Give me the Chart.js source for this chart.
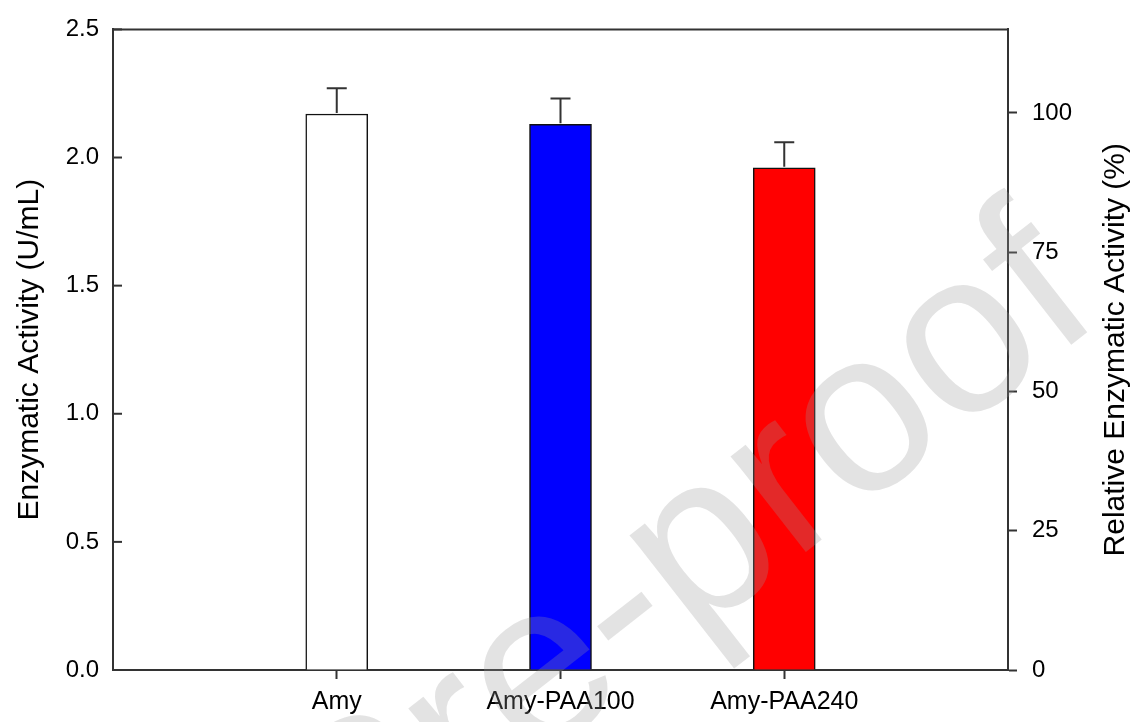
<!DOCTYPE html>
<html><head><meta charset="utf-8">
<script src="https://cdn.jsdelivr.net/npm/chart.js@4.4.1/dist/chart.umd.min.js"></script>
<style>html,body{margin:0;padding:0;background:#fff;overflow:hidden}canvas{display:block}</style>
</head><body>
<canvas id="c" width="1133" height="722"></canvas>
<script>
const categories = ['Amy', 'Amy-PAA100', 'Amy-PAA240'];
const activity = [2.17, 2.13, 1.96];
const errorUp = [0.10, 0.10, 0.10];
const barColors = ['#ffffff', '#0000ff', '#ff0000'];
const leftTicks = [0, 0.5, 1.0, 1.5, 2.0, 2.5];
const rightTicks = [0, 25, 50, 75, 100];
const leftMax = 2.5;
const rightMax = 115;
const leftTitle = 'Enzymatic Activity (U/mL)';
const rightTitle = 'Relative Enzymatic Activity (%)';
const watermark = 'Journal Pre-proof';

const FONT = "'Liberation Sans', Arial, sans-serif";
Chart.defaults.font.family = FONT;
Chart.defaults.color = '#000';

const labels = ['', ...categories, ''];
const values = [null, ...activity, null];
const fills = ['rgba(0,0,0,0)', ...barColors, 'rgba(0,0,0,0)'];
const AXIS = '#333';

const decor = {
  id: 'decor',
  afterDatasetsDraw(chart) {
    const {ctx, chartArea: a, scales} = chart;
    const ys = scales.y;
    const meta = chart.getDatasetMeta(0);
    ctx.save();
    ctx.strokeStyle = AXIS;
    ctx.lineWidth = 2;
    // error bars (upper only)
    categories.forEach((c, i) => {
      const el = meta.data[i + 1];
      const x = el.x;
      const yTop = el.y;
      const yErr = ys.getPixelForValue(activity[i] + errorUp[i]);
      ctx.beginPath();
      ctx.moveTo(x, yTop - 1);
      ctx.lineTo(x, yErr);
      ctx.moveTo(x - 10, yErr);
      ctx.lineTo(x + 10, yErr);
      ctx.stroke();
    });
    // inward ticks on left axis
    leftTicks.forEach(v => {
      const y = ys.getPixelForValue(v);
      ctx.beginPath();
      ctx.moveTo(a.left, y);
      ctx.lineTo(a.left + 9, y);
      ctx.stroke();
    });
    // top frame line
    ctx.beginPath();
    ctx.moveTo(a.left - 1, a.top);
    ctx.lineTo(a.right + 1, a.top);
    ctx.stroke();
    ctx.restore();
    // watermark
    ctx.save();
    ctx.font = '230px ' + FONT;
    ctx.fillStyle = 'rgba(150,150,150,0.27)';
    ctx.textBaseline = 'alphabetic';
    ctx.textAlign = 'left';
    ctx.translate(545, 680);
    ctx.rotate(-38 * Math.PI / 180);
    const pre = ctx.measureText('Journal Pr').width;
    const ew = ctx.measureText('e').width;
    ctx.fillText(watermark, -pre - ew / 2, 230 * 0.26);
    ctx.restore();
  },
  afterDraw(chart) {
    const {ctx, chartArea: a} = chart;
    // right axis title, reading bottom to top
    ctx.save();
    ctx.fillStyle = '#000';
    ctx.font = '30px ' + FONT;
    ctx.textAlign = 'center';
    ctx.textBaseline = 'middle';
    ctx.translate(1116, (a.top + a.bottom) / 2);
    ctx.rotate(-Math.PI / 2);
    ctx.fillText(rightTitle, 0, 0);
    ctx.restore();
  }
};

new Chart(document.getElementById('c'), {
  type: 'bar',
  data: {
    labels: labels,
    datasets: [{
      data: values,
      backgroundColor: fills,
      borderColor: '#111',
      borderWidth: 1.5,
      barThickness: 62,
      yAxisID: 'y'
    }]
  },
  options: {
    responsive: false,
    animation: false,
    devicePixelRatio: 1,
    layout: {padding: {top: 24, left: 0, right: 0, bottom: 0}},
    plugins: {legend: {display: false}, tooltip: {enabled: false}},
    scales: {
      x: {
        type: 'category',
        offset: false,
        grid: {
          offset: false,
          drawOnChartArea: false,
          drawTicks: true,
          tickLength: 9,
          tickWidth: 2,
          color: ctx => (ctx.index === 0 || ctx.index === labels.length - 1) ? 'rgba(0,0,0,0)' : AXIS
        },
        border: {display: true, color: AXIS, width: 2},
        ticks: {font: {size: 25}, padding: 8, autoSkip: false, maxRotation: 0, minRotation: 0, color: '#000'},
        afterFit: s => { s.height = 52; }
      },
      y: {
        position: 'left',
        min: 0,
        max: leftMax,
        afterBuildTicks: s => { s.ticks = leftTicks.map(v => ({value: v})); },
        grid: {drawOnChartArea: false, drawTicks: false},
        border: {display: true, color: AXIS, width: 2},
        ticks: {font: {size: 24}, padding: 14, color: '#000', callback: v => Number(v).toFixed(1)},
        title: {display: true, text: leftTitle, font: {size: 30}, padding: {top: 12, bottom: 0}, color: '#000'},
        afterFit: s => { s.width = 113; }
      },
      y1: {
        position: 'right',
        min: 0,
        max: rightMax,
        afterBuildTicks: s => { s.ticks = rightTicks.map(v => ({value: v})); },
        grid: {drawOnChartArea: false, drawTicks: true, tickLength: 9, tickWidth: 2, color: AXIS},
        border: {display: true, color: AXIS, width: 2},
        ticks: {font: {size: 24}, padding: 15, color: '#000', callback: v => String(v)},
        afterFit: s => { s.width = 125; }
      }
    }
  },
  plugins: [decor]
});
</script>
</body></html>
